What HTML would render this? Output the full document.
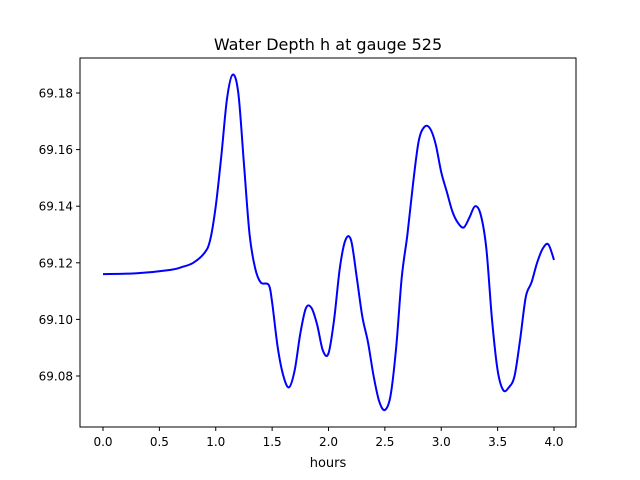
<!DOCTYPE html>
<html><head><meta charset="utf-8"><style>
body{margin:0;background:#fff;}
svg{display:block;font-family:"DejaVu Sans","Liberation Sans",sans-serif;}
</style></head><body>
<svg id="chart" width="640" height="480">
<rect width="640" height="480" fill="#fff"/>
<text x="328" y="50" text-anchor="middle" font-size="16">Water Depth h at gauge 525</text>
<g id="ticks"></g>
<path id="line" fill="none" stroke="#0000ff" stroke-width="2"/>
<rect x="80" y="58" width="496" height="369" fill="none" stroke="#000" stroke-width="1"/>
<text x="328" y="467" text-anchor="middle" font-size="13">hours</text>
</svg>
<script>
const hours=[0,0.3,0.6,0.7,0.8,0.9,0.95,1.0,1.05,1.1,1.15,1.2,1.25,1.3,1.35,1.4,1.47,1.5,1.55,1.6,1.65,1.7,1.75,1.8,1.85,1.9,1.95,2.0,2.05,2.1,2.15,2.2,2.25,2.3,2.35,2.4,2.45,2.5,2.55,2.6,2.65,2.7,2.75,2.8,2.85,2.9,2.95,3.0,3.05,3.1,3.15,3.2,3.25,3.3,3.35,3.4,3.45,3.5,3.55,3.6,3.65,3.7,3.75,3.8,3.85,3.9,3.95,4.0];
const depth=[69.116,69.1163,69.1175,69.1185,69.120,69.1235,69.128,69.140,69.158,69.178,69.1865,69.180,69.155,69.130,69.118,69.113,69.1122,69.106,69.090,69.080,69.076,69.082,69.095,69.104,69.104,69.098,69.089,69.088,69.100,69.118,69.128,69.128,69.115,69.101,69.092,69.080,69.071,69.068,69.073,69.090,69.115,69.130,69.148,69.163,69.168,69.1675,69.162,69.152,69.145,69.138,69.134,69.1325,69.136,69.140,69.137,69.125,69.100,69.082,69.075,69.076,69.080,69.093,69.108,69.113,69.120,69.125,69.1265,69.121];
const xTicks=[0,0.5,1,1.5,2,2.5,3,3.5,4];
const xTickLabels=["0.0","0.5","1.0","1.5","2.0","2.5","3.0","3.5","4.0"];
const yTicks=[69.08,69.10,69.12,69.14,69.16,69.18];
const yTickLabels=["69.08","69.10","69.12","69.14","69.16","69.18"];
const X=v=>103+v*112.75;
const Y=v=>376-(v-69.08)/0.02*56.6;
const NS="http://www.w3.org/2000/svg";
const g=document.getElementById('ticks');
function mk(t,a){const e=document.createElementNS(NS,t);for(const k in a)e.setAttribute(k,a[k]);g.appendChild(e);return e;}
xTicks.forEach((t,i)=>{
 const l=mk('line',{x1:X(t),x2:X(t),y1:427,y2:431,stroke:'#000'});
 
 
 const tx=mk('text',{x:X(t),y:446,'text-anchor':'middle','font-size':'12'});
 tx.textContent=xTickLabels[i];
 
 
});
yTicks.forEach((t,i)=>{
 const l=mk('line',{x1:76,x2:80,y1:Y(t),y2:Y(t),stroke:'#000'});
 
 
 const tx=mk('text',{x:73,y:Y(t)+4.5,'text-anchor':'end','font-size':'12'});
 tx.textContent=yTickLabels[i];
 
 
});
const p=hours.map((h,i)=>[X(h),Y(depth[i])]);
let d='M'+p[0][0]+','+p[0][1];
for(let i=0;i<p.length-1;i++){
 const p0=p[Math.max(0,i-1)],p1=p[i],p2=p[i+1],p3=p[Math.min(p.length-1,i+2)];
 const c1=[p1[0]+(p2[0]-p0[0])/6,p1[1]+(p2[1]-p0[1])/6];
 const c2=[p2[0]-(p3[0]-p1[0])/6,p2[1]-(p3[1]-p1[1])/6];
 d+=` C${c1[0]},${c1[1]} ${c2[0]},${c2[1]} ${p2[0]},${p2[1]}`;
}
document.getElementById('line').setAttribute('d',d);
</script>
</body></html>
